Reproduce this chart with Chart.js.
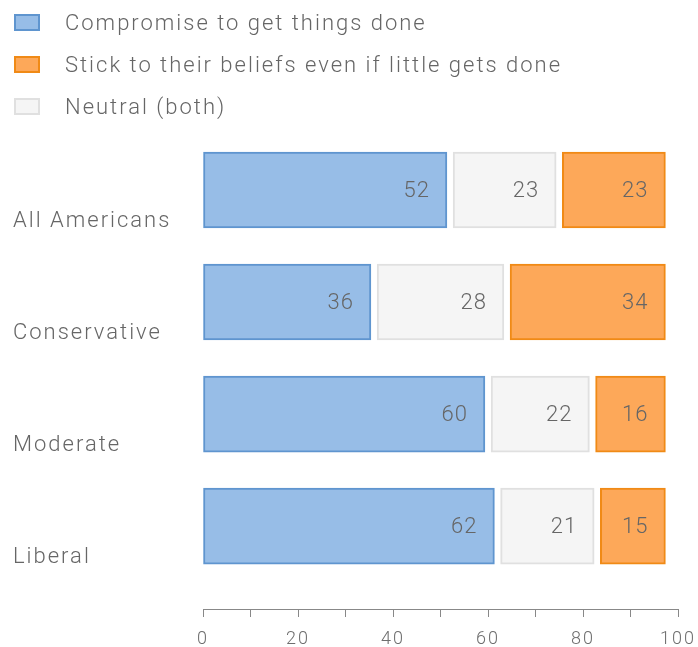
<!DOCTYPE html>
<html lang="en">
<head>
    <meta charset="UTF-8">
    <title>Compromise or stick to beliefs</title>
    <script src="https://cdn.jsdelivr.net/npm/chart.js"></script>
    <style>
        body {
            margin: 0;
            background: #fff;
            font-family: Roboto, sans-serif;
        }
        .wrap {
            position: relative;
            width: 698px;
            height: 647px;
        }
        #legend {
            position: absolute;
            left: 14px;
            top: 1px;
        }
        .legend-item {
            display: flex;
            align-items: center;
            height: 42px;
        }
        .legend-box {
            box-sizing: border-box;
            width: 26px;
            height: 17px;
            border: 2px solid;
            margin-right: 25px;
        }
        .legend-label {
            font-size: 22px;
            font-weight: 300;
            color: #666;
            letter-spacing: 2px;
        }
    </style>
</head>
<body>
    <div class="wrap">
        <canvas id="chart" width="698" height="647"></canvas>
        <div id="legend"></div>
    </div>

    <script>
        const categories = ["All Americans", "Conservative", "Moderate", "Liberal"];
        const compromise = [52, 36, 60, 62];
        const neutral = [23, 28, 22, 21];
        const stick = [23, 34, 16, 15];
        const xTickValues = [0, 20, 40, 60, 80, 100];

        const seriesNames = [
            "Compromise to get things done",
            "Neutral (both)",
            "Stick to their beliefs even if little gets done"
        ];
        const seriesValues = [compromise, neutral, stick];
        const fills = ["#97bde7", "#f5f5f5", "#fda859"];
        const borders = ["#5f95cf", "#e0e0e0", "#f08a16"];
        const legendOrder = [0, 2, 1];

        // space left between neighbouring segments, in axis units
        const GAP = 1.3;

        // each segment becomes a floating bar [start, end] laid end to end
        function segments(s) {
            return categories.map((_, i) => {
                let start = 0;
                for (let k = 0; k < s; k++) start += seriesValues[k][i];
                const end = start + seriesValues[s][i];
                return { y: i, x: [s === 0 ? start : start + GAP / 2, end - GAP / 2] };
            });
        }

        const valueLabels = {
            id: "valueLabels",
            afterDatasetsDraw(chart) {
                const ctx = chart.ctx;
                ctx.save();
                ctx.font = "300 22px Roboto";
                ctx.letterSpacing = "1px";
                ctx.fillStyle = "#666";
                ctx.textAlign = "right";
                ctx.textBaseline = "middle";
                chart.data.datasets.forEach((ds, d) => {
                    chart.getDatasetMeta(d).data.forEach((bar, i) => {
                        ctx.fillText(seriesValues[d][i], bar.x - 17, bar.y + 1);
                    });
                });
                ctx.restore();
            }
        };

        const spacing = {
            id: "spacing",
            beforeUpdate(chart) { chart.ctx.letterSpacing = "2px"; },
            beforeDraw(chart) { chart.ctx.letterSpacing = "2px"; }
        };

        const chart = new Chart(document.getElementById("chart"), {
            type: "bar",
            data: {
                datasets: seriesNames.map((name, s) => ({
                    label: name,
                    data: segments(s),
                    backgroundColor: fills[s],
                    borderColor: borders[s],
                    borderWidth: 2,
                    borderSkipped: false,
                    grouped: false,
                    barThickness: 76
                }))
            },
            options: {
                indexAxis: "y",
                responsive: false,
                animation: false,
                layout: { padding: { top: 134, left: 13, right: 20, bottom: 0 } },
                plugins: {
                    legend: { display: false },
                    tooltip: { enabled: false }
                },
                scales: {
                    y: {
                        type: "linear",
                        reverse: true,
                        offset: false,
                        min: -0.5,
                        max: 3.74,
                        grid: { display: false },
                        border: { display: false },
                        afterBuildTicks: (scale) => {
                            scale.ticks = categories.map((_, i) => ({ value: i }));
                        },
                        afterFit: (scale) => { scale.width = 190; },
                        ticks: {
                            callback: (v) => categories[v],
                            crossAlign: "far",
                            labelOffset: 31,
                            color: "#666",
                            font: { family: "Roboto", size: 22, weight: "300" }
                        }
                    },
                    x: {
                        type: "linear",
                        min: 0,
                        max: 100,
                        grid: {
                            drawOnChartArea: false,
                            tickLength: 8,
                            color: "#888"
                        },
                        border: { color: "#888" },
                        afterFit: (scale) => {
                            scale.height = 38;
                            scale.paddingLeft = 0;
                            scale.paddingRight = 0;
                        },
                        ticks: {
                            stepSize: 10,
                            autoSkip: false,
                            maxRotation: 0,
                            padding: 12,
                            callback: (v) => (xTickValues.includes(v) ? v : ""),
                            color: "#6e6e6e",
                            font: { family: "Roboto", size: 18, weight: "300" }
                        }
                    }
                }
            },
            plugins: [valueLabels, spacing]
        });

        // legend, built from the chart's datasets
        const legend = document.getElementById("legend");
        legendOrder.forEach((s) => {
            const ds = chart.data.datasets[s];
            const item = document.createElement("div");
            item.className = "legend-item";
            const box = document.createElement("span");
            box.className = "legend-box";
            box.style.background = ds.backgroundColor;
            box.style.borderColor = ds.borderColor;
            const label = document.createElement("span");
            label.className = "legend-label";
            label.textContent = ds.label;
            item.append(box, label);
            legend.append(item);
        });
    </script>
</body>
</html>
